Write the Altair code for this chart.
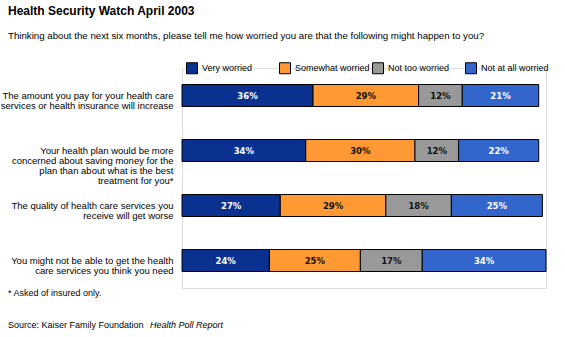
import altair as alt
import pandas as pd

# ---- data ----
items = [
    "The amount you pay for your health care|services or health insurance will increase",
    "Your health plan would be more|concerned about saving money for the|plan than about what is the best|treatment for you*",
    "The quality of health care services you|receive will get worse",
    "You might not be able to get the health|care services you think you need",
]
levels = ["Very worried", "Somewhat worried", "Not too worried", "Not at all worried"]
colors = ["#0A3190", "#FF9933", "#999999", "#3366CC"]
very = [36, 34, 27, 24]
somewhat = [29, 30, 29, 25]
nottoo = [12, 12, 18, 17]
notatall = [21, 22, 25, 34]

title_text = "Health Security Watch April 2003"
subtitle_text = ("Thinking about the next six months, please tell me how worried you are "
                 "that the following might happen to you?")
footnote_text = "* Asked of insured only."
source_text = "Source: Kaiser Family Foundation"
source_italic = "Health Poll Report"

rows = []
for i, it in enumerate(items):
    for k, (lv, vals) in enumerate(zip(levels, [very, somewhat, nottoo, notatall])):
        rows.append({"item": it, "level": lv, "k": k, "value": vals[i]})
df = pd.DataFrame(rows)

FONT = "Liberation Sans"
W, H = 364, 220

base = alt.Chart(df).transform_stack(
    stack="value", groupby=["item"], as_=["x0", "x1"], sort=[alt.SortField("k")]
).transform_calculate(
    mid="(datum.x0 + datum.x1) / 2",
    lab="datum.value + '%'",
    tc="(datum.k == 0 || datum.k == 3) ? 'white' : '#111111'",
)

yenc = alt.Y(
    "item:N",
    sort=items,
    title=None,
    scale=alt.Scale(paddingInner=0.6, paddingOuter=0.3),
    axis=alt.Axis(
        domain=False, ticks=False, labelPadding=9, labelFontSize=9.5,
        labelLineHeight=10, labelLimit=0, labelColor="black", labelFont=FONT,
        labelExpr="split(datum.label, '|')",
    ),
)

bars = base.mark_bar(stroke="black", strokeWidth=1).encode(
    x=alt.X("x0:Q", scale=alt.Scale(domain=[0, 100]), axis=None),
    x2="x1:Q",
    y=yenc,
    color=alt.Color(
        "level:N",
        scale=alt.Scale(domain=levels, range=colors),
        sort=levels,
        legend=alt.Legend(
            title=None, orient="none", legendX=4, legendY=-6,
            direction="horizontal", columns=4, gridAlign="all", columnPadding=0,
            symbolType="square", symbolSize=121, symbolStrokeColor="black",
            symbolStrokeWidth=1, labelFont=FONT, labelFontSize=9,
            labelOffset=4, labelColor="black", labelLimit=0,
        ),
    ),
)

labels = base.mark_text(font="DejaVu Sans", fontSize=8.5, fontWeight="bold").encode(
    x=alt.X("mid:Q"),
    y=alt.Y("item:N", sort=items),
    text="lab:N",
    color=alt.Color("tc:N", scale=None),
)

foot = alt.Chart(pd.DataFrame({"t": [footnote_text]})).mark_text(
    align="left", baseline="middle", font=FONT, fontSize=9, color="black"
).encode(x=alt.value(-174), y=alt.value(225), text="t:N")

src1 = alt.Chart(pd.DataFrame({"t": [source_text]})).mark_text(
    align="left", baseline="middle", font=FONT, fontSize=9, color="black"
).encode(x=alt.value(-174), y=alt.value(257), text="t:N")

src2 = alt.Chart(pd.DataFrame({"t": [source_italic]})).mark_text(
    align="left", baseline="middle", font=FONT, fontSize=9, fontStyle="italic", color="black"
).encode(x=alt.value(-32), y=alt.value(257), text="t:N")

chart = alt.layer(bars, labels, foot, src1, src2).properties(
    width=W, height=H,
    autosize=alt.AutoSizeParams(type="none"),
    padding={"left": 182, "top": 68, "right": 19, "bottom": 49},
    title=alt.TitleParams(
        text=title_text, subtitle=subtitle_text, anchor="start", frame="group",
        dx=-174, offset=20, font=FONT, fontSize=12, fontWeight="bold",
        color="black", subtitleFont=FONT, subtitleFontSize=9.7,
        subtitleColor="black", subtitlePadding=13,
    ),
).configure_view(stroke=None).configure(background="white")

chart.save("out.html", embed_options={"renderer": "svg", "actions": False})
